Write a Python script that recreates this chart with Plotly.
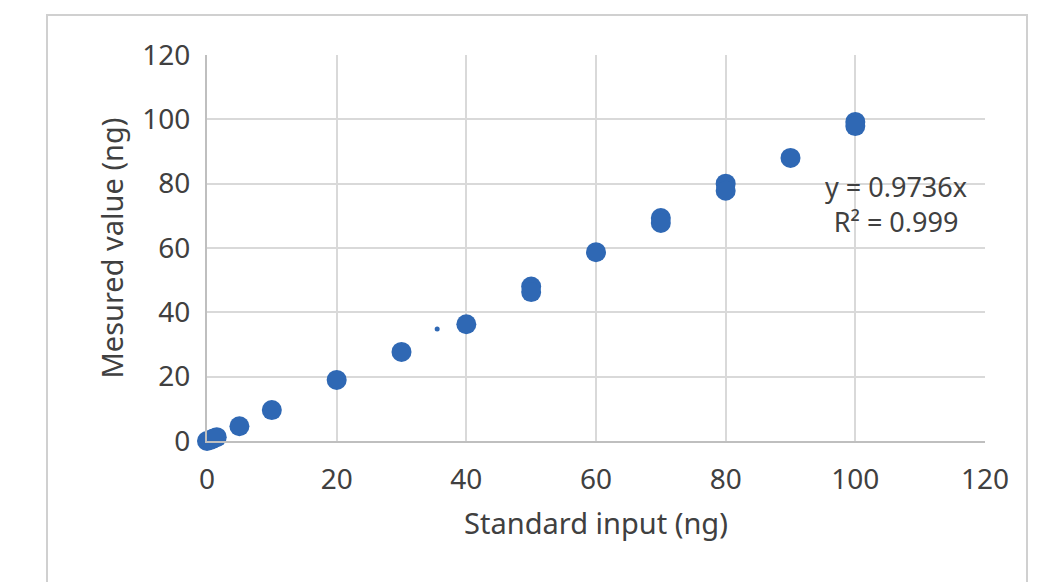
import plotly.graph_objects as go

std_input = [0, 0.5, 1, 1.5, 5, 10, 20, 30, 40, 50, 50, 60, 70, 70, 80, 80, 90, 100, 100]
measured = [0, 0.3, 0.8, 1.2, 4.6, 9.6, 19.0, 27.7, 36.3, 48.0, 46.3, 58.7, 69.3, 67.8, 80.0, 77.8, 88.0, 99.2, 97.9]
stray_x = [35.5]
stray_y = [34.8]
eq_text = "y = 0.9736x"
r2_text = "R² = 0.999"

W, H = 1049, 582
OFF = 8  # page body margin offset
L, R, T, B = 207 - OFF, 1049 - 985 + OFF, 55 - OFF, 582 - 441 + OFF
pw, ph = W - L - R, H - T - B

blue = "#2F68B4"
grid = "#D9D9D9"
font = "Noto Sans"

fig = go.Figure()
fig.add_trace(go.Scatter(x=std_input, y=measured, mode="markers", cliponaxis=False,
                         marker=dict(size=20, color=blue), showlegend=False))
fig.add_trace(go.Scatter(x=stray_x, y=stray_y, mode="markers", cliponaxis=False,
                         marker=dict(size=5, color=blue), showlegend=False))

annfont = dict(family=font, size=27, color="#404040")
fig.add_annotation(x=106.3, y=73.6, xref="x", yref="y",
                   text=eq_text + "<br>" + r2_text, showarrow=False, align="center",
                   font=annfont, xanchor="center", yanchor="middle")

# outer chart border
fig.add_shape(type="rect", xref="paper", yref="paper",
              x0=(47 - OFF - L) / pw, x1=(1027 - OFF - L) / pw,
              y0=(H - B - 650) / ph, y1=(H - B - (15 - OFF)) / ph,
              line=dict(color="#D0D0D0", width=2), fillcolor="rgba(0,0,0,0)", layer="below")

tickfont = dict(family=font, size=28, color="#404040")
titlefont = dict(family=font, size=29, color="#404040")
fig.update_layout(
    width=W, height=H,
    margin=dict(l=L, r=R, t=T, b=B, autoexpand=False),
    paper_bgcolor="white", plot_bgcolor="white",
    font=tickfont,
    xaxis=dict(range=[0, 120], dtick=20, showgrid=True, gridcolor=grid, gridwidth=2,
               zeroline=False, showline=True, linecolor="#BFBFBF", linewidth=2,
               tickfont=tickfont, ticks="", ticklabelstandoff=12, automargin=False,
               title=dict(text="Standard input (ng)", font=titlefont, standoff=18)),
    yaxis=dict(range=[0, 120], dtick=20, showgrid=True, gridcolor=grid, gridwidth=2,
               zeroline=False, showline=True, linecolor="#BFBFBF", linewidth=2,
               tickfont=tickfont, ticks="", ticklabelstandoff=9, automargin=False,
               title=dict(text="Mesured value (ng)", font=titlefont, standoff=10)),
)

fig.write_html("out.html")
